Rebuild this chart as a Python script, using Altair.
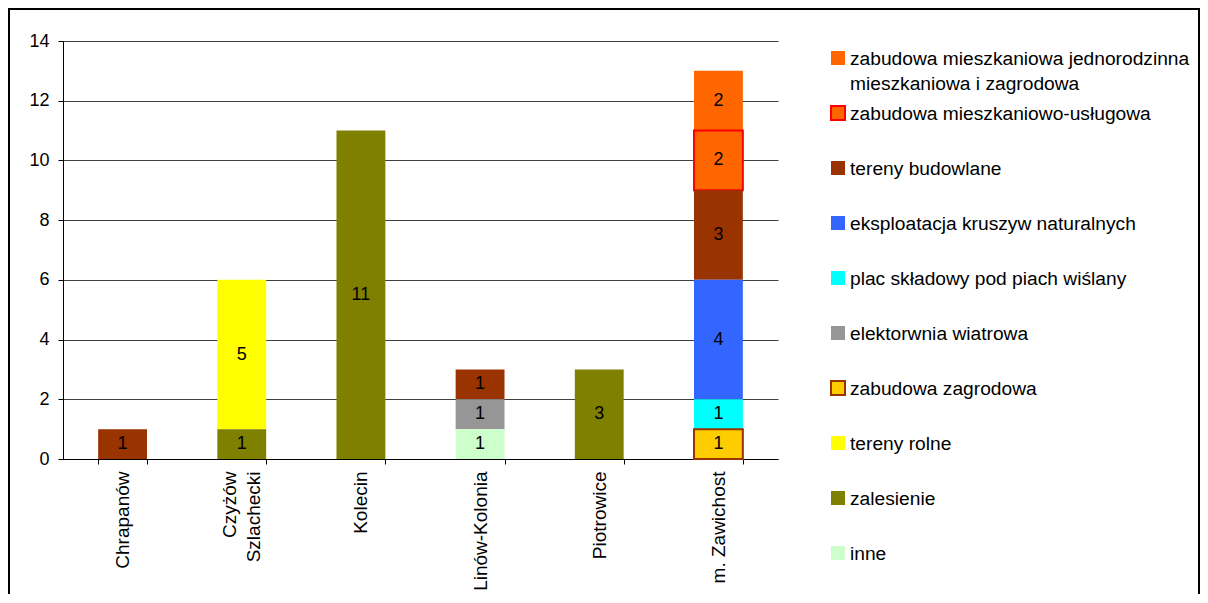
import altair as alt
import pandas as pd

categories = ["Chrapanów", "Czyżów\nSzlachecki", "Kolecin", "Linów-Kolonia", "Piotrowice", "m. Zawichost"]

series = [
    "zabudowa mieszkaniowa jednorodzinna\nmieszkaniowa i zagrodowa",
    "zabudowa mieszkaniowo-usługowa",
    "tereny budowlane",
    "eksploatacja kruszyw naturalnych",
    "plac składowy pod piach wiślany",
    "elektorwnia wiatrowa",
    "zabudowa zagrodowa",
    "tereny rolne",
    "zalesienie",
    "inne",
]

fill_colors = ["#FF6600", "#FF6600", "#993300", "#3366FF", "#00FFFF",
               "#969696", "#FFCC00", "#FFFF00", "#808000", "#CCFFCC"]
stroke_colors = ["transparent", "#FF0000", "transparent", "transparent", "transparent",
                 "transparent", "#993300", "transparent", "transparent", "transparent"]

# values per category (order of `categories`)
zab_jednorodzinna = [0, 0, 0, 0, 0, 2]
zab_uslugowa      = [0, 0, 0, 0, 0, 2]
tereny_budowlane  = [1, 0, 0, 1, 0, 3]
eksploatacja      = [0, 0, 0, 0, 0, 4]
plac_skladowy     = [0, 0, 0, 0, 0, 1]
elektrownia       = [0, 0, 0, 1, 0, 0]
zab_zagrodowa     = [0, 0, 0, 0, 0, 1]
tereny_rolne      = [0, 5, 0, 0, 0, 0]
zalesienie        = [0, 1, 11, 0, 3, 0]
inne              = [0, 0, 0, 1, 0, 0]

series_values = [zab_jednorodzinna, zab_uslugowa, tereny_budowlane, eksploatacja,
                 plac_skladowy, elektrownia, zab_zagrodowa, tereny_rolne, zalesienie, inne]

rows = []
for si, (s, vals) in enumerate(zip(series, series_values)):
    for c, v in zip(categories, vals):
        if v:
            rows.append({"category": c, "series": s, "rank": si, "value": v})
df = pd.DataFrame(rows)
legend_df = pd.DataFrame({"series": series, "rank": list(range(len(series)))})

FONT = "Liberation Sans"
color_scale = alt.Scale(domain=series, range=fill_colors)
stroke_scale = alt.Scale(domain=series, range=stroke_colors)

base = alt.Chart(df).transform_stack(
    stack="value", groupby=["category"], as_=["v0", "v1"],
    sort=[alt.SortField("rank", order="descending")]
)

x_enc = alt.X(
    "category:N", sort=categories,
    scale=alt.Scale(paddingInner=0.59, paddingOuter=0.295),
    axis=alt.Axis(
        title=None, labelAngle=-90, labelAlign="right", labelBaseline="middle",
        tickBand="extent", tickSize=5, labelPadding=7, labelFontSize=19,
        labelLineHeight=24, labelColor="black", domainColor="black", tickColor="black",
        labelOffset=alt.ExprRef(expr="indexof(datum.label, '\\n') >= 0 ? -12 : 0"),
        labelExpr="indexof(datum.label, '\\n') >= 0 ? [split(datum.label, '\\n')[0] + '\u00a0\u00a0\u00a0', split(datum.label, '\\n')[1]] : datum.label",
    ),
)

bars = base.mark_bar(strokeWidth=2).encode(
    x=x_enc,
    y=alt.Y("v0:Q", scale=alt.Scale(domain=[0, 14]),
            axis=alt.Axis(title=None, values=list(range(0, 15, 2)), tickSize=5,
                          labelPadding=9, labelFontSize=18, labelColor="black",
                          domainColor="black", tickColor="black",
                          gridColor="#404040", gridWidth=1, grid=True)),
    y2="v1:Q",
    color=alt.Color("series:N", scale=color_scale, legend=None),
    stroke=alt.Stroke("series:N", scale=stroke_scale, legend=None),
)

bar_text = base.transform_calculate(mid="(datum.v0 + datum.v1) / 2").mark_text(
    fontSize=18, color="black", baseline="middle", font=FONT
).encode(
    x=alt.X("category:N", sort=categories),
    y=alt.Y("mid:Q"),
    text=alt.Text("value:Q"),
)

main = alt.layer(bars, bar_text)

leg_y = alt.Y("series:N", sort=series,
              scale=alt.Scale(type="point", domain=series, range=[17, 512], padding=0),
              axis=None)

leg_sq = alt.Chart(legend_df).mark_square(size=196, strokeWidth=2, opacity=1).encode(
    x=alt.value(775),
    y=leg_y,
    color=alt.Color("series:N", scale=color_scale, legend=None),
    stroke=alt.Stroke("series:N", scale=stroke_scale, legend=None),
)

leg_txt = alt.Chart(legend_df).transform_calculate(
    lines="split(datum.series, '\\n')"
).mark_text(
    align="left", baseline="alphabetic", dy=7, fontSize=19.2, lineHeight=25,
    color="black", font=FONT
).encode(
    x=alt.value(787),
    y=leg_y,
    text=alt.Text("lines:N"),
)

legend = alt.layer(leg_sq, leg_txt)

frame = alt.Chart(pd.DataFrame({"a": [0]})).mark_rect(
    fill=None, stroke="black", strokeWidth=2
).encode(
    x=alt.value(-54), x2=alt.value(1136), y=alt.value(-32), y2=alt.value(700)
)

chart = alt.layer(main, legend, frame).resolve_scale(y="independent").properties(
    width=715, height=418,
    autosize=alt.AutoSizeParams(type="none"),
    padding={"left": 55, "top": 33, "right": 422, "bottom": 135},
).configure(font=FONT).configure_view(stroke=None)

chart.save("out.html", embed_options={"renderer": "svg", "actions": False})
